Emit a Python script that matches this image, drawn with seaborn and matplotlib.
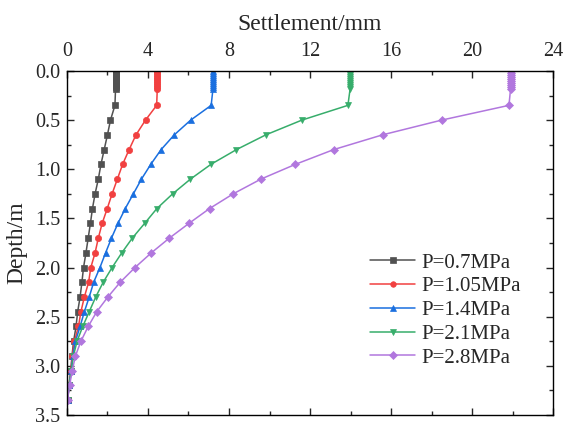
import numpy as np
import pandas as pd
import matplotlib
matplotlib.use("Agg")
import matplotlib.pyplot as plt
import seaborn as sns
from matplotlib.ticker import MultipleLocator, FormatStrFormatter

# depth of measuring points (m)
depth = [0.00, 0.02, 0.04, 0.06, 0.08, 0.10, 0.12, 0.14, 0.16, 0.18,
         0.35, 0.50, 0.65, 0.80, 0.95, 1.10, 1.25, 1.40, 1.55, 1.70,
         1.85, 2.00, 2.15, 2.30, 2.45, 2.60, 2.75, 2.90, 3.05, 3.20, 3.35]

# settlement (mm) for each load
s_07 = [2.40] * 10 + [2.37, 2.15, 2.00, 1.84, 1.68, 1.55, 1.39, 1.26, 1.16, 1.05,
                      0.94, 0.82, 0.74, 0.65, 0.53, 0.45, 0.33, 0.25, 0.19, 0.10, 0.03]
s_105 = [4.46] * 10 + [4.43, 3.88, 3.41, 3.07, 2.75, 2.49, 2.23, 1.99, 1.74, 1.55,
                       1.39, 1.18, 1.07, 0.86, 0.69, 0.57, 0.37, 0.26, 0.20, 0.10, 0.03]
s_14 = [7.21] * 10 + [7.12, 6.11, 5.30, 4.65, 4.14, 3.68, 3.28, 2.88, 2.52, 2.20,
                      1.91, 1.63, 1.32, 1.10, 0.86, 0.65, 0.42, 0.29, 0.22, 0.11, 0.03]
s_21 = [13.98] * 10 + [13.87, 11.60, 9.82, 8.37, 7.11, 6.10, 5.22, 4.44, 3.84, 3.23,
                       2.71, 2.23, 1.79, 1.42, 1.10, 0.78, 0.50, 0.32, 0.22, 0.11, 0.03]
s_28 = [21.90] * 10 + [21.82, 18.50, 15.58, 13.17, 11.28, 9.58, 8.21, 7.04, 6.03, 5.06,
                       4.17, 3.36, 2.63, 2.02, 1.47, 1.05, 0.69, 0.42, 0.26, 0.13, 0.03]

labels = ["P=0.7MPa", "P=1.05MPa", "P=1.4MPa", "P=2.1MPa", "P=2.8MPa"]
series = [s_07, s_105, s_14, s_21, s_28]
colors = ["#515151", "#F14040", "#1A6FDF", "#37AD6B", "#B177DE"]
markers = ["s", "o", "^", "v", "D"]

rows = []
for lab, vals in zip(labels, series):
    for d, v in zip(depth, vals):
        rows.append({"Settlement": v, "Depth": d, "Load": lab})
df = pd.DataFrame(rows)

sns.set_style("ticks")
plt.rcParams["font.family"] = ["Liberation Serif", "DejaVu Serif"]

fig = plt.figure(figsize=(5.72, 4.30), dpi=100)
ax = fig.add_axes([0.117, 0.035, 0.85, 0.80])

sns.lineplot(data=df, x="Settlement", y="Depth", hue="Load", style="Load",
             hue_order=labels, style_order=labels, palette=colors,
             markers=markers, dashes=False, sort=False, estimator=None,
             linewidth=1.1, markersize=4.5, ax=ax)

# markers filled and edged in the line colour
for line in ax.lines:
    line.set_markeredgecolor(line.get_color())
    line.set_markeredgewidth(0.5)

ax.set_xlim(0, 24)
ax.set_ylim(3.5, 0)
ax.xaxis.set_major_locator(MultipleLocator(4))
ax.xaxis.set_minor_locator(MultipleLocator(2))
ax.yaxis.set_major_locator(MultipleLocator(0.5))
ax.yaxis.set_minor_locator(MultipleLocator(0.25))
ax.yaxis.set_major_formatter(FormatStrFormatter("%.1f"))
ax.xaxis.tick_top()
ax.xaxis.set_label_position("top")
ax.tick_params(which="both", direction="in", top=True, bottom=True,
               left=True, right=True, labelbottom=False, labeltop=True,
               labelsize=14.5, width=1)
ax.tick_params(axis="x", pad=7)
ax.tick_params(axis="y", pad=5)
ax.tick_params(which="major", length=5)
ax.tick_params(which="minor", length=3)
for sp in ax.spines.values():
    sp.set_linewidth(1)
    sp.set_color("black")

ax.set_xlabel("Settlement/mm", fontsize=17, labelpad=9)
ax.set_ylabel("Depth/m", fontsize=17, labelpad=5)

handles, _ = ax.get_legend_handles_labels()
for h in handles:
    h.set_markeredgecolor(h.get_color())
    h.set_markersize(4)
ax.legend(handles=handles, labels=labels, frameon=False, fontsize=15,
          loc="upper left", bbox_to_anchor=(0.584, 0.525), handlelength=2.2,
          labelspacing=0.2, handletextpad=0.3)

fig.savefig("out.png", dpi=100)
